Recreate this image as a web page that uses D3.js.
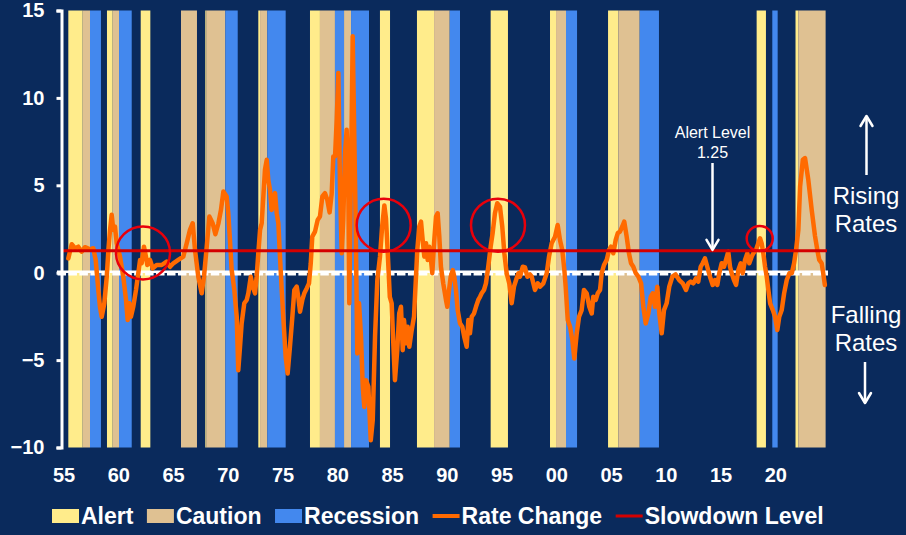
<!DOCTYPE html>
<html>
<head>
<meta charset="utf-8">
<script src="https://cdn.jsdelivr.net/npm/d3@7"></script>
<style>
  body { margin: 0; background: #0a2a5c; }
  svg { display: block; font-family: "Liberation Sans", Arial, sans-serif; }
</style>
</head>
<body>
<svg width="906" height="535"></svg>
<script>
// Shaded periods, [start, end] in decimal years
const alertBands = [
  [1955.44, 1956.75], [1958.97, 1959.49], [1962.05, 1962.93], [1967.95, 1968.03],
  [1972.79, 1972.95], [1977.51, 1978.42], [1983.9, 1984.82], [1987.28, 1988.84],
  [1994.01, 1995.59], [1999.43, 1999.98], [2004.73, 2005.67], [2018.3, 2019.15],
  [2021.85, 2022.1]
];
const cautionBands = [
  [1956.75, 1957.42], [1959.49, 1960.07], [1965.73, 1967.19], [1968.03, 1969.78],
  [1972.95, 1973.61], [1978.42, 1979.79], [1980.62, 1981.26], [1988.84, 1990.27],
  [1999.98, 2000.89], [2005.67, 2007.62], [2022.1, 2024.6]
];
const recessionBands = [
  [1957.42, 1958.42], [1960.07, 1961.23], [1969.78, 1970.91], [1973.61, 1975.29],
  [1979.79, 1980.62], [1981.26, 1982.9], [1990.27, 1991.21], [2000.89, 2001.9],
  [2007.62, 2009.38], [2019.73, 2020.22]
];

// Rate change, [year, value]
const rateChange = [
  [1955.44, 0.82], [1955.75, 1.63], [1956.05, 1.40], [1956.35, 1.49], [1956.66, 1.20],
  [1956.96, 1.46], [1957.42, 1.34], [1957.72, 1.40], [1957.94, 0.73], [1958.18, -0.99],
  [1958.33, -1.95], [1958.49, -2.52], [1958.73, -1.75], [1958.95, -0.23], [1959.10, 1.30],
  [1959.25, 2.45], [1959.40, 3.31], [1959.55, 2.45], [1959.70, 2.64], [1959.86, 1.68],
  [1960.16, 0.92], [1960.46, -0.23], [1960.71, -1.56], [1960.86, -2.71], [1961.01, -1.75],
  [1961.16, -2.52], [1961.37, -1.95], [1961.62, -0.99], [1961.83, -0.03], [1961.99, 0.73],
  [1962.14, 0.54], [1962.35, 1.49], [1962.53, 0.92], [1962.65, 0.44], [1962.90, 0.73],
  [1963.15, 0.25], [1963.51, 0.44], [1963.97, 0.44], [1964.42, 0.63], [1964.73, 0.34],
  [1965.03, 0.54], [1965.48, 0.73], [1965.94, 0.92], [1966.25, 1.68], [1966.55, 2.45],
  [1966.80, 2.83], [1967.01, 1.30], [1967.31, -0.23], [1967.62, -1.18], [1967.83, -0.23],
  [1968.08, 1.49], [1968.32, 3.21], [1968.62, 2.83], [1968.87, 2.2], [1969.14, 2.8],
  [1969.38, 3.59], [1969.60, 4.64], [1969.90, 4.36], [1970.05, 3.40], [1970.20, 1.87],
  [1970.36, 0.15], [1970.60, -0.99], [1970.82, -2.52], [1970.96, -5.58], [1971.12, -4.24],
  [1971.27, -2.90], [1971.51, -1.75], [1971.73, -1.56], [1971.88, -1.18], [1972.10, -0.23],
  [1972.28, -0.80], [1972.49, -1.18], [1972.64, -0.23], [1972.79, 1.11], [1972.95, 2.45],
  [1973.10, 2.83], [1973.25, 4.36], [1973.40, 5.89], [1973.56, 6.46], [1973.70, 5.31],
  [1973.86, 4.74], [1974.01, 3.59], [1974.16, 4.17], [1974.32, 4.55], [1974.47, 3.40],
  [1974.62, 2.83], [1974.77, 0.92], [1974.93, -0.99], [1975.07, -2.52], [1975.29, -4.81],
  [1975.47, -5.77], [1975.68, -4.24], [1975.90, -2.52], [1976.08, -0.99], [1976.30, -0.80],
  [1976.44, -1.38], [1976.60, -2.23], [1976.81, -1.56], [1976.99, -1.18], [1977.21, -0.90],
  [1977.42, -0.61], [1977.58, 0.54], [1977.72, 2.06], [1977.97, 2.35], [1978.21, 3.02],
  [1978.42, 3.21], [1978.64, 4.36], [1978.88, 4.55], [1979.09, 4.17], [1979.30, 3.45],
  [1979.49, 4.5], [1979.64, 6.65], [1979.80, 6.65], [1979.95, 8.75], [1980.10, 11.43],
  [1980.25, 4.93], [1980.41, 1.11], [1980.55, 3.02], [1980.71, 6.84], [1980.86, 8.18],
  [1981.01, 4.93], [1981.10, -1.75], [1981.23, 4.93], [1981.32, 8.75], [1981.41, 13.52],
  [1981.53, 8.75], [1981.68, 3.02], [1981.83, -4.62], [1981.99, -1.75], [1982.17, -3.67],
  [1982.33, -6.53], [1982.47, -7.68], [1982.63, -6.15], [1982.84, -6.53], [1983.06, -9.59],
  [1983.24, -8.44], [1983.45, -3.67], [1983.66, -0.42], [1983.90, 0.9], [1984.10, 2.64],
  [1984.30, 3.85], [1984.45, 3.1], [1984.62, 1.0], [1984.80, -1.38], [1984.97, -1.75],
  [1985.12, -4.04], [1985.27, -6.15], [1985.48, -4.43], [1985.66, -2.33], [1985.82, -1.95],
  [1985.98, -4.43], [1986.10, -2.71], [1986.28, -4.04], [1986.43, -3.09], [1986.58, -4.24],
  [1986.80, -3.28], [1987.01, -2.52], [1987.16, -0.61], [1987.31, 1.30], [1987.49, 2.64],
  [1987.65, 2.92], [1987.80, 1.87], [1987.95, 0.92], [1988.11, 1.68], [1988.26, 0.73],
  [1988.41, 1.49], [1988.56, 0.73], [1988.68, -0.03], [1988.84, 1.68], [1989.02, 3.21],
  [1989.17, 3.40], [1989.32, 2.06], [1989.47, 0.34], [1989.68, -0.61], [1989.93, -1.56],
  [1990.05, -1.95], [1990.21, -0.99], [1990.36, -0.23], [1990.55, 0.15], [1990.69, -0.23],
  [1990.84, -0.99], [1991.00, -2.14], [1991.21, -2.90], [1991.42, -3.09], [1991.60, -3.67],
  [1991.82, -4.24], [1991.97, -2.71], [1992.12, -3.47], [1992.28, -2.52], [1992.49, -2.33],
  [1992.67, -1.95], [1992.88, -1.56], [1993.04, -1.38], [1993.19, -1.18], [1993.40, -0.99],
  [1993.58, -0.61], [1993.79, 0.34], [1994.01, 1.49], [1994.19, 2.26], [1994.40, 3.40],
  [1994.61, 3.97], [1994.86, 3.78], [1995.07, 2.64], [1995.26, 1.11], [1995.47, -0.03],
  [1995.71, -0.61], [1995.93, -1.75], [1996.14, -0.80], [1996.33, -0.42], [1996.54, -0.03],
  [1996.69, -0.23], [1996.94, 0.34], [1997.15, 0.3], [1997.36, -0.23], [1997.60, -0.1],
  [1997.76, -0.23], [1998.06, -0.99], [1998.31, -0.61], [1998.52, -0.80], [1998.82, -0.61],
  [1999.13, -0.03], [1999.34, 0.92], [1999.58, 1.68], [1999.89, 2.06], [2000.13, 2.73],
  [2000.34, 1.87], [2000.55, 1.30], [2000.74, 0.15], [2000.86, -0.80], [2001.05, -2.71],
  [2001.26, -3.09], [2001.47, -3.86], [2001.65, -4.91], [2001.87, -3.47], [2002.08, -2.52],
  [2002.32, -2.14], [2002.53, -0.99], [2002.78, -1.18], [2003.02, -1.95], [2003.24, -2.33],
  [2003.38, -1.38], [2003.60, -1.56], [2003.79, -1.18], [2004.00, -0.99], [2004.15, -0.03],
  [2004.36, 0.44], [2004.61, 0.73], [2004.82, 1.30], [2005.00, 1.49], [2005.21, 1.11],
  [2005.43, 1.87], [2005.62, 2.26], [2005.82, 2.35], [2006.03, 2.64], [2006.21, 2.92],
  [2006.43, 2.06], [2006.64, 1.11], [2006.83, 0.54], [2007.04, 0.34], [2007.26, -0.03],
  [2007.50, -0.23], [2007.75, -0.61], [2007.95, -1.95], [2008.17, -2.90], [2008.41, -2.33],
  [2008.63, -1.38], [2008.81, -1.18], [2009.02, -1.95], [2009.23, -0.80], [2009.41, -2.33],
  [2009.63, -3.47], [2009.84, -2.14], [2010.08, -1.75], [2010.32, -0.80], [2010.60, -0.23],
  [2010.90, -0.1], [2011.23, -0.42], [2011.55, -0.61], [2011.85, -0.99], [2012.06, -0.61],
  [2012.28, -0.51], [2012.52, -0.61], [2012.76, -0.32], [2012.97, -0.51], [2013.19, 0.34],
  [2013.37, 0.54], [2013.58, 0.82], [2013.79, 0.34], [2014.04, -0.23], [2014.29, -0.70],
  [2014.50, -0.42], [2014.71, -0.70], [2014.89, -0.03], [2015.11, 0.54], [2015.32, 0.34],
  [2015.50, 0.73], [2015.71, 1.20], [2015.87, 0.34], [2016.02, -0.03], [2016.23, -0.42],
  [2016.42, -0.70], [2016.63, 0.15], [2016.85, 0.54], [2017.03, -0.03], [2017.24, 0.73],
  [2017.45, 1.11], [2017.63, 0.54], [2017.85, 0.92], [2018.00, 1.11], [2018.24, 1.30],
  [2018.45, 1.68], [2018.61, 1.97], [2018.76, 1.68], [2018.91, 1.11], [2019.07, 0.34],
  [2019.22, -0.23], [2019.37, -0.99], [2019.53, -1.75], [2019.78, -2.14], [2019.98, -2.52],
  [2020.19, -3.28], [2020.37, -2.52], [2020.59, -2.14], [2020.81, -1.18], [2021.05, -0.42],
  [2021.29, -0.03], [2021.51, -0.03], [2021.72, 0.54], [2021.90, 1.30], [2022.11, 2.45],
  [2022.27, 4.93], [2022.52, 6.46], [2022.72, 6.56], [2023.02, 5.31], [2023.33, 3.59],
  [2023.63, 2.1], [2023.84, 1.30], [2024.02, 0.73], [2024.24, 0.54], [2024.38, -0.03],
  [2024.53, -0.70]
];

const slowdownLevel = 1.25;
// red rings around the peaks that cleared the slowdown level, [year, value, radius px]
const highlightRings = [[1962.26, 1.13, 27], [1984.24, 2.72, 27], [1994.68, 2.72, 27], [2018.58, 1.96, 13]];

const xTickYears = [1955, 1960, 1965, 1970, 1975, 1980, 1985, 1990, 1995, 2000, 2005, 2010, 2015, 2020];
const xTickLabels = ["55", "60", "65", "70", "75", "80", "85", "90", "95", "00", "05", "10", "15", "20"];
const yTicks = [-10, -5, 0, 5, 10, 15];

const legendNames = ["Alert", "Caution", "Recession", "Rate Change", "Slowdown Level"];
const legendColors = ["#ffec8b", "#dfc192", "#4388ee", "#ff6a00", "#d40000"];
const legendKinds = ["box", "box", "box", "line", "line"];

const svg = d3.select("svg");

svg.append("rect").attr("width", 906).attr("height", 535).attr("fill", "#0a2a5c");

const x = d3.scaleLinear().domain([1955, 2025]).range([63.5, 830]);
const y = d3.scaleLinear().domain([-10, 15]).range([447.5, 10.5]);

// bands
function drawBands(list, color) {
  svg.append("g").selectAll("rect")
    .data(list)
    .enter()
    .append("rect")
    .attr("x", d => x(d[0]))
    .attr("width", d => x(d[1]) - x(d[0]))
    .attr("y", y(15))
    .attr("height", y(-10) - y(15))
    .attr("fill", color);
}
drawBands(alertBands, legendColors[0]);
drawBands(cautionBands, legendColors[1]);
drawBands(recessionBands, legendColors[2]);

// zero line, solid top with notched lower half
svg.append("line")
  .attr("x1", 57).attr("x2", 828)
  .attr("y1", y(0) - 1).attr("y2", y(0) - 1)
  .attr("stroke", "white").attr("stroke-width", 2.5);
svg.append("line")
  .attr("x1", x(1955) - 6).attr("x2", 828)
  .attr("y1", y(0) + 1.5).attr("y2", y(0) + 1.5)
  .attr("stroke", "white").attr("stroke-width", 2.5)
  .attr("stroke-dasharray", "8.5,2.45");

// rate change
const line = d3.line()
  .x(d => x(d[0]))
  .y(d => y(d[1]));

svg.append("path")
  .datum(rateChange)
  .attr("d", line)
  .attr("fill", "none")
  .attr("stroke", legendColors[3])
  .attr("stroke-width", 4.5)
  .attr("stroke-linejoin", "round")
  .attr("stroke-linecap", "round");

// slowdown level
svg.append("line")
  .attr("x1", x(1955) - 1).attr("x2", 827)
  .attr("y1", y(slowdownLevel)).attr("y2", y(slowdownLevel))
  .attr("stroke", legendColors[4]).attr("stroke-width", 3);

svg.append("g").selectAll("ellipse")
  .data(highlightRings)
  .enter()
  .append("ellipse")
  .attr("cx", d => x(d[0]))
  .attr("cy", d => y(d[1]))
  .attr("rx", d => d[2])
  .attr("ry", d => d[2] - 0.5)
  .attr("fill", "none")
  .attr("stroke", "#e8000b")
  .attr("stroke-width", 2.5);

// axes
const yAxis = svg.append("g")
  .attr("transform", `translate(${x(1955) - 2},0)`)
  .call(d3.axisLeft(y).tickValues(yTicks).tickSize(5).tickSizeOuter(5).tickPadding(12).tickFormat(d3.format("d")));
yAxis.select(".domain").attr("stroke", "white").attr("stroke-width", 3);
yAxis.selectAll(".tick line").attr("stroke", "white").attr("stroke-width", 3);
yAxis.selectAll("text")
  .attr("fill", "white")
  .style("font-size", "20px")
  .style("font-weight", "bold")
  .style("font-family", "Liberation Sans, Arial, sans-serif");

const xAxis = svg.append("g")
  .attr("transform", `translate(0,${y(-10)})`)
  .call(d3.axisBottom(x).tickValues(xTickYears).tickSize(0).tickPadding(20)
    .tickFormat((d, i) => xTickLabels[i]));
xAxis.select(".domain").remove();
xAxis.selectAll("text")
  .attr("fill", "white")
  .style("font-size", "20px")
  .style("font-weight", "bold")
  .style("font-family", "Liberation Sans, Arial, sans-serif");

// arrows
function arrow(xp, y1, y2) {
  const dir = y2 > y1 ? 1 : -1;
  svg.append("line")
    .attr("x1", xp).attr("x2", xp).attr("y1", y1).attr("y2", y2)
    .attr("stroke", "white").attr("stroke-width", 2.5);
  svg.append("path")
    .attr("d", `M${xp - 6},${y2 - dir * 10}L${xp},${y2}L${xp + 6},${y2 - dir * 10}`)
    .attr("fill", "none").attr("stroke", "white").attr("stroke-width", 2.5)
    .attr("stroke-linecap", "round").attr("stroke-linejoin", "round");
}

// alert level note
const noteX = x(2014.27);
svg.append("text").attr("x", noteX).attr("y", 138).attr("text-anchor", "middle")
  .attr("fill", "white").style("font-size", "16px").text("Alert Level");
svg.append("text").attr("x", noteX).attr("y", 157.5).attr("text-anchor", "middle")
  .attr("fill", "white").style("font-size", "16px").text("1.25");
arrow(noteX, 163, y(slowdownLevel) - 1);

// rising / falling
const sideX = 866;
svg.append("text").attr("x", sideX).attr("y", 204).attr("text-anchor", "middle")
  .attr("fill", "white").style("font-size", "24px").text("Rising");
svg.append("text").attr("x", sideX).attr("y", 231.5).attr("text-anchor", "middle")
  .attr("fill", "white").style("font-size", "24px").text("Rates");
arrow(sideX + 0.5, 175, 116);
svg.append("text").attr("x", sideX).attr("y", 323).attr("text-anchor", "middle")
  .attr("fill", "white").style("font-size", "24px").text("Falling");
svg.append("text").attr("x", sideX).attr("y", 350.5).attr("text-anchor", "middle")
  .attr("fill", "white").style("font-size", "24px").text("Rates");
arrow(sideX - 1, 362, 403);

// legend
const legend = svg.append("g");
let lx = 52;
legendNames.forEach((name, i) => {
  if (legendKinds[i] === "box") {
    legend.append("rect").attr("x", lx).attr("y", 509).attr("width", 27).attr("height", 14)
      .attr("fill", legendColors[i]);
  } else {
    legend.append("line").attr("x1", lx).attr("x2", lx + 27).attr("y1", 516).attr("y2", 516)
      .attr("stroke", legendColors[i]).attr("stroke-width", i === 3 ? 4 : 3);
  }
  const t = legend.append("text")
    .attr("x", lx + 29).attr("y", 524)
    .attr("fill", "white")
    .style("font-size", "23px")
    .style("font-weight", "bold")
    .text(name);
  lx += 29 + t.node().getComputedTextLength() + 13.5;
});
</script>
</body>
</html>
